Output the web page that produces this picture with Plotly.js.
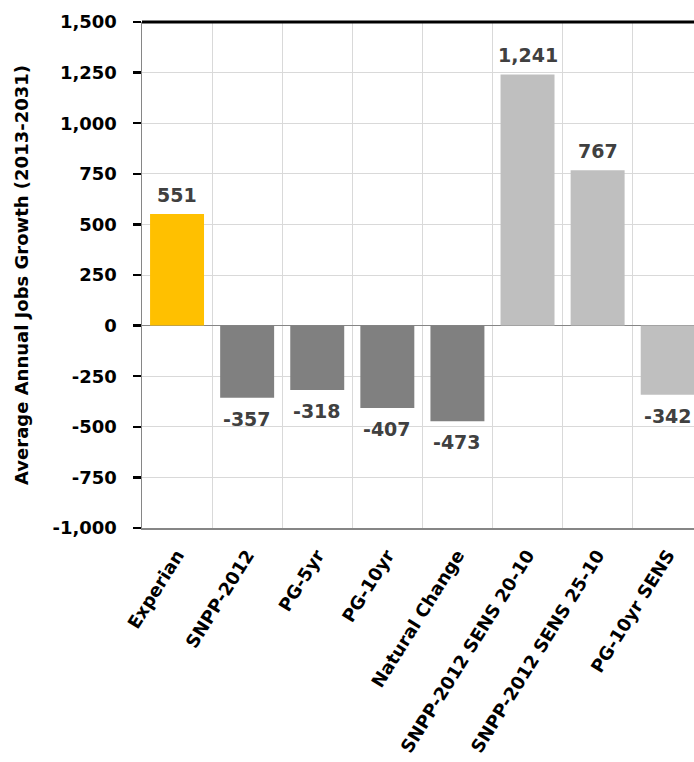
<!DOCTYPE html>
<html>
<head>
<meta charset="utf-8">
<script src="https://cdn.plot.ly/plotly-3.0.1.min.js"></script>
<style>html,body{margin:0;padding:0;background:#fff;overflow:hidden}#chart{width:694px;height:762px}</style>
</head>
<body>
<div id="chart"></div>
<script>
const categories = ["Experian", "SNPP-2012", "PG-5yr", "PG-10yr", "Natural Change", "SNPP-2012 SENS 20-10", "SNPP-2012 SENS 25-10", "PG-10yr SENS"];
const values = [551, -357, -318, -407, -473, 1241, 767, -342];
const barColors = ["#FFC000", "#808080", "#808080", "#808080", "#808080", "#BFBFBF", "#BFBFBF", "#BFBFBF"];
const yTickVals = [-1000, -750, -500, -250, 0, 250, 500, 750, 1000, 1250, 1500];
const yTickText = ["-1,000", "-750", "-500", "-250", "0", "250", "500", "750", "1,000", "1,250", "1,500"];
const yTitle = "Average Annual Jobs Growth (2013-2031)";

const fmt = v => (v < 0 ? "-" : "") + Math.abs(v).toLocaleString("en-US");

const trace = {
  type: "bar",
  x: categories,
  y: values,
  marker: { color: barColors, line: { width: 0 } },
  hoverinfo: "x+y"
};

const annotations = categories.map((c, i) => ({
  x: c, y: values[i], xref: "x", yref: "y",
  text: fmt(values[i]),
  showarrow: false,
  yanchor: values[i] >= 0 ? "bottom" : "top",
  yshift: values[i] >= 0 ? 6 : -8,
  font: { family: "DejaVu Sans", size: 19, color: "#404040", weight: "bold" }
}));

const layout = {
  width: 694, height: 762,
  margin: { l: 142, r: 0, t: 22, b: 234, pad: 0 },
  paper_bgcolor: "#ffffff", plot_bgcolor: "#ffffff",
  showlegend: false,
  bargap: 0.23,
  xaxis: {
    type: "category",
    range: [-0.5, 7.375],
    tickson: "boundaries",
    showgrid: true, gridcolor: "#d9d9d9", gridwidth: 1,
    showline: true, linecolor: "#868686", linewidth: 1.5,
    ticks: "", tickangle: -58, ticklabelstandoff: 8,
    tickfont: { family: "DejaVu Sans", size: 18, color: "#000000", weight: "bold" },
    automargin: false
  },
  yaxis: {
    range: [-1000, 1500],
    tickvals: yTickVals, ticktext: yTickText,
    showgrid: true, gridcolor: "#d9d9d9", gridwidth: 1,
    zeroline: true, zerolinecolor: "#868686", zerolinewidth: 1.5,
    showline: true, linecolor: "#868686", linewidth: 1.5,
    ticks: "outside", ticklen: 8, tickwidth: 2.5, tickcolor: "#000000",
    ticklabelstandoff: 12,
    tickfont: { family: "DejaVu Sans", size: 18, color: "#000000", weight: "bold" },
    title: { text: yTitle, standoff: 19, font: { family: "DejaVu Sans", size: 18, color: "#000000", weight: "bold" } },
    automargin: false
  },
  shapes: [{
    type: "line", xref: "paper", yref: "paper", x0: 0, x1: 1, y0: 1, y1: 1,
    line: { color: "#000000", width: 3 }
  }],
  annotations: annotations
};

Plotly.newPlot("chart", [trace], layout, { displayModeBar: false, staticPlot: true });
</script>
</body>
</html>
